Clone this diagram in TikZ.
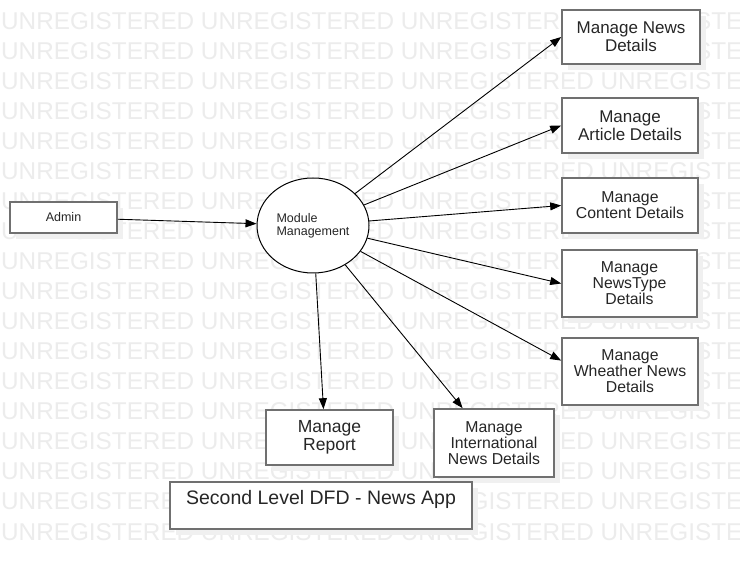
\documentclass[tikz,border=0pt]{standalone}
\usepackage{fontspec}
\setmainfont{Liberation Sans}
\usetikzlibrary{shapes.geometric, arrows.meta, shadows}
\definecolor{boxline}{RGB}{112, 112, 112}
\definecolor{wmark}{RGB}{236, 236, 236}
\definecolor{boxshade}{RGB}{240, 240, 240}

\begin{document}
\begin{tikzpicture}[
  x=1pt, y=-1pt,
  every node/.style={inner sep=0pt},
  wmtext/.style={text=wmark, font=\fontsize{24.3}{26}\selectfont},
  proc/.style={draw=boxline, line width=1.6pt, fill=white, align=center, text=black!85,
    drop shadow={shadow xshift=6pt, shadow yshift=-6pt, fill=boxshade, opacity=1}},
  bigtxt/.style={font=\fontsize{17}{18}\selectfont},
  smalltxt/.style={font=\fontsize{15.8}{16}\selectfont},
  flow/.style={->, line width=0.9pt},
  >={Triangle[length=11pt, width=8pt]}
]
\fill[white] (0,0) rectangle (740,569);
\useasboundingbox (0,0) rectangle (740,569);
% watermark rows
\begin{scope}
  \clip (0,0) rectangle (740,569);
  \foreach \k in {0,...,17} {
    \node[wmtext, anchor=base west] (wm\k) at (1, {30+30*\k}) {UNREGISTERED UNREGISTERED UNREGISTERED UNREGISTERED};
  }
\end{scope}
% entity and process
\node[proc, minimum width=107pt, minimum height=31pt, font=\fontsize{12.5}{14}\selectfont] (admin) at (63.5, 217.5) {Admin};
\node[draw, ellipse, line width=1pt, fill=white, minimum width=112pt, minimum height=95pt, align=left, text=black!85, font=\fontsize{12.5}{13}\selectfont] (mm) at (313, 225.5) {Module\\Management};
% sub processes
\node[proc, bigtxt, minimum width=138pt, minimum height=54pt] (news) at (631, 37) {Manage News\\Details};
\node[proc, bigtxt, minimum width=136pt, minimum height=55pt] (article) at (630, 125.5) {Manage\\Article Details};
\node[proc, smalltxt, minimum width=136pt, minimum height=55pt] (content) at (630, 205.5) {Manage\\Content Details};
\node[proc, smalltxt, minimum width=135pt, minimum height=67pt] (ntype) at (629.5, 283.5) {Manage\\NewsType\\Details};
\node[proc, smalltxt, minimum width=136pt, minimum height=67pt] (wnews) at (630, 371.5) {Manage\\Wheather News\\Details};
\node[proc, smalltxt, minimum width=120pt, minimum height=68pt] (intl) at (494, 443) {Manage\\International\\News Details};
\node[proc, font=\fontsize{17.5}{18}\selectfont, minimum width=127pt, minimum height=55pt] (report) at (329.5, 437.5) {Manage\\Report};
\node[proc, font=\fontsize{19.5}{21}\selectfont, minimum width=302pt, text height=23pt, text depth=24pt] (title) at (321, 505.5) {Second Level DFD - News App};
% flows
\draw[flow] (admin) -- (mm);
\draw[flow] (mm) -- (news.west);
\draw[flow] (mm) -- (article.west);
\draw[flow] (mm) -- (content.west);
\draw[flow] (mm) -- (ntype.west);
\draw[flow] (mm) -- (wnews.171);
\draw[flow] (mm) -- (intl.132);
\draw[flow] (mm) -- (report.102);
\end{tikzpicture}
\end{document}
